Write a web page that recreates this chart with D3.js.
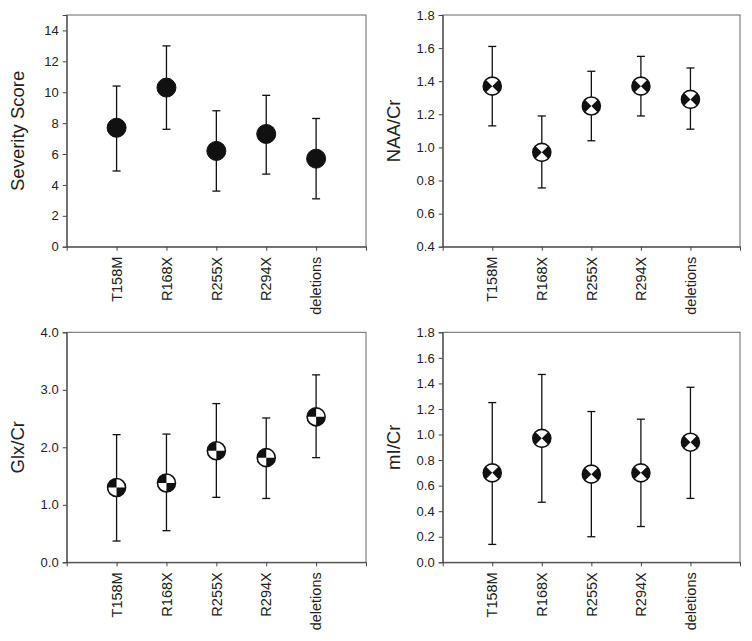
<!DOCTYPE html>
<html>
<head>
<meta charset="utf-8">
<script src="https://cdn.jsdelivr.net/npm/d3@7"></script>
<style>
  html, body { margin: 0; padding: 0; background: #fff; }
  svg { display: block; }
  text { font-family: Arial, "Liberation Sans", sans-serif; fill: #222; }
</style>
</head>
<body>
<svg id="chart" width="752" height="641"></svg>
<script>
const categories = ["T158M", "R168X", "R255X", "R294X", "deletions"];

const severityMean = [7.7, 10.3, 6.2, 7.3, 5.7];
const severityHigh = [10.4, 13.0, 8.8, 9.8, 8.3];
const severityLow  = [4.9, 7.6, 3.6, 4.7, 3.1];
const severityTicks = [0, 2, 4, 6, 8, 10, 12, 14];

const naaMean = [1.37, 0.97, 1.25, 1.37, 1.29];
const naaHigh = [1.61, 1.19, 1.46, 1.55, 1.48];
const naaLow  = [1.13, 0.755, 1.04, 1.19, 1.11];
const naaTicks = [0.4, 0.6, 0.8, 1.0, 1.2, 1.4, 1.6, 1.8];

const glxMean = [1.30, 1.38, 1.94, 1.82, 2.53];
const glxHigh = [2.22, 2.23, 2.76, 2.51, 3.26];
const glxLow  = [0.37, 0.55, 1.13, 1.11, 1.82];
const glxTicks = [0.0, 1.0, 2.0, 3.0, 4.0];

const miMean = [0.70, 0.97, 0.69, 0.70, 0.94];
const miHigh = [1.25, 1.47, 1.18, 1.12, 1.37];
const miLow  = [0.14, 0.47, 0.20, 0.28, 0.50];
const miTicks = [0.0, 0.2, 0.4, 0.6, 0.8, 1.0, 1.2, 1.4, 1.6, 1.8];

const panels = [
  { label: "Severity Score", mean: severityMean, high: severityHigh, low: severityLow,
    ticks: severityTicks, domain: [0, 15], fmt: d3.format("d"), marker: "filled",
    box: [66.7, 15, 366, 246.7] },
  { label: "NAA/Cr", mean: naaMean, high: naaHigh, low: naaLow,
    ticks: naaTicks, domain: [0.4, 1.8], fmt: d3.format(".1f"), marker: "bowtie",
    box: [442.7, 15, 740, 246.7] },
  { label: "Glx/Cr", mean: glxMean, high: glxHigh, low: glxLow,
    ticks: glxTicks, domain: [0, 4], fmt: d3.format(".1f"), marker: "quarter",
    box: [66.7, 332.3, 366, 562.3] },
  { label: "mI/Cr", mean: miMean, high: miHigh, low: miLow,
    ticks: miTicks, domain: [0, 1.8], fmt: d3.format(".1f"), marker: "bowtie",
    box: [442.7, 332.3, 740, 562.3] }
];

const svg = d3.select("#chart");
const axisColor = "#444";
const R = 9;

panels.forEach(p => {
  const [x0, y0, x1, y1] = p.box;
  const x = d3.scaleLinear().domain([0, categories.length + 1]).range([x0, x1]);
  const y = d3.scaleLinear().domain(p.domain).range([y1, y0]);
  const g = svg.append("g");

  // frame
  g.append("rect").attr("x", x0).attr("y", y0).attr("width", x1 - x0).attr("height", y1 - y0)
    .attr("fill", "none").attr("stroke", "#666").attr("stroke-width", 1);

  // y axis
  const ya = g.append("g").attr("transform", `translate(${x0},0)`)
    .call(d3.axisLeft(y).tickValues(p.ticks).tickFormat(p.fmt).tickSize(4).tickPadding(4));
  ya.select(".domain").attr("stroke", axisColor);
  ya.selectAll(".tick line").attr("stroke", axisColor);
  ya.selectAll(".tick text").attr("font-size", 13).attr("fill", "#222")
    .style("font-family", "Arial, 'Liberation Sans', sans-serif");

  // x axis
  const xa = g.append("g").attr("transform", `translate(0,${y1})`)
    .call(d3.axisBottom(x).tickValues(d3.range(0, categories.length + 2)).tickFormat("").tickSize(4).tickSizeOuter(0));
  xa.select(".domain").attr("stroke", axisColor);
  xa.selectAll(".tick line").attr("stroke", axisColor);

  // category labels
  g.selectAll("text.cat").data(categories).join("text")
    .attr("class", "cat")
    .attr("transform", (d, i) => `translate(${x(i + 1)},${y1 + 10}) rotate(-90)`)
    .attr("text-anchor", "end").attr("dy", "0.36em")
    .attr("font-size", 14.5)
    .text(d => d);

  // y label
  g.append("text")
    .attr("transform", `translate(${x0 - 43},${(y0 + y1) / 2}) rotate(-90)`)
    .attr("text-anchor", "middle").attr("font-size", 18.5)
    .text(p.label);

  // error bars
  const eb = g.selectAll("g.eb").data(categories).join("g").attr("class", "eb");
  eb.append("line")
    .attr("x1", (d, i) => x(i + 1)).attr("x2", (d, i) => x(i + 1))
    .attr("y1", (d, i) => y(p.high[i])).attr("y2", (d, i) => y(p.low[i]))
    .attr("stroke", "#111").attr("stroke-width", 1.3);
  ["high", "low"].forEach(k => {
    eb.append("line")
      .attr("x1", (d, i) => x(i + 1) - 4).attr("x2", (d, i) => x(i + 1) + 4)
      .attr("y1", (d, i) => y(p[k][i])).attr("y2", (d, i) => y(p[k][i]))
      .attr("stroke", "#111").attr("stroke-width", 1.3);
  });

  // markers
  const mk = g.selectAll("g.mk").data(categories).join("g").attr("class", "mk")
    .attr("transform", (d, i) => `translate(${x(i + 1)},${y(p.mean[i])})`);
  if (p.marker === "filled") {
    mk.append("circle").attr("r", R + 0.5).attr("fill", "#111").attr("stroke", "#111");
  } else {
    mk.append("circle").attr("r", R).attr("fill", "#fff");
    const arc = d3.arc().innerRadius(0).outerRadius(R);
    let wedges;
    if (p.marker === "bowtie") {
      wedges = [[Math.PI / 4, 3 * Math.PI / 4], [5 * Math.PI / 4, 7 * Math.PI / 4]];
    } else {
      wedges = [[3 * Math.PI / 2, 2 * Math.PI], [Math.PI / 2, Math.PI]];
    }
    wedges.forEach(w => {
      mk.append("path").attr("d", arc({ startAngle: w[0], endAngle: w[1] })).attr("fill", "#111");
    });
    mk.append("circle").attr("r", R).attr("fill", "none").attr("stroke", "#111").attr("stroke-width", 1.6);
  }
});
</script>
</body>
</html>
